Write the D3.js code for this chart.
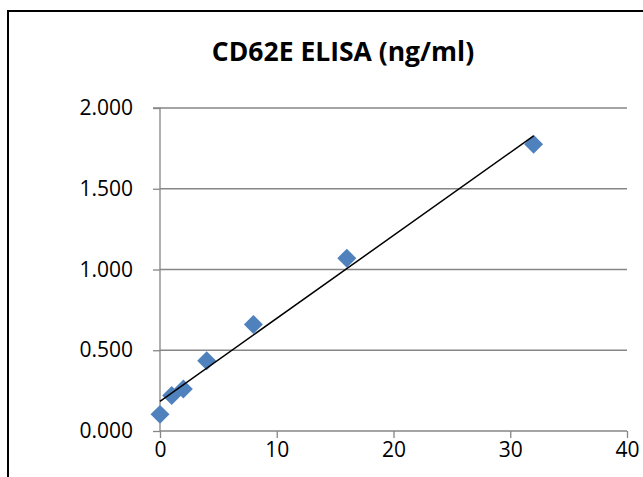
<!DOCTYPE html>
<html>
<head>
<meta charset="utf-8">
<script src="https://cdn.jsdelivr.net/npm/d3@7"></script>
<style>
html,body{margin:0;padding:0;background:#fff;}
svg{display:block;}
text{font-family:"Open Sans",sans-serif;}
</style>
</head>
<body>
<svg id="chart" width="643" height="477"></svg>
<script>
const title = "CD62E ELISA (ng/ml)";
const concentrations = [0, 1, 2, 4, 8, 16, 32];
const absorbance = [0.103, 0.220, 0.260, 0.435, 0.660, 1.070, 1.775];
const xTicks = [0, 10, 20, 30, 40];
const yTicks = [0, 0.5, 1.0, 1.5, 2.0];

const svg = d3.select("#chart");

// chart border
svg.append("rect").attr("x", 8).attr("y", 11).attr("width", 700).attr("height", 600)
  .attr("fill", "#fff").attr("stroke", "#000").attr("stroke-width", 2);

const x = d3.scaleLinear().domain([0, 40]).range([160, 627]);
const y = d3.scaleLinear().domain([0, 2]).range([431, 108]);

// gridlines
svg.append("g").selectAll("line").data(yTicks.filter(d => d > 0)).join("line")
  .attr("x1", x(0)).attr("x2", x(40))
  .attr("y1", d => y(d)).attr("y2", d => y(d))
  .attr("stroke", "#868686").attr("stroke-width", 1.3);

// y axis
const yAxis = d3.axisLeft(y).tickValues(yTicks).tickFormat(d3.format(".3f")).tickSize(7).tickPadding(20);
const gy = svg.append("g").attr("transform", `translate(${x(0)},0)`).call(yAxis);
gy.select(".domain").attr("stroke", "#868686").attr("stroke-width", 1.3).attr("d", `M-7,${y(2)}H0V${y(0)}`);
gy.selectAll(".tick line").attr("stroke", "#868686").attr("stroke-width", 1.3);
gy.selectAll(".tick text").attr("font-size", 21).attr("fill", "#000").attr("font-family", "Open Sans");

// x axis
const xAxis = d3.axisBottom(x).tickValues(xTicks).tickSize(7).tickPadding(4);
const gx = svg.append("g").attr("transform", `translate(0,${y(0)})`).call(xAxis);
gx.select(".domain").attr("stroke", "#868686").attr("stroke-width", 1.3).attr("d", `M${x(0)},0H${x(40)}`);
gx.selectAll(".tick line").attr("stroke", "#868686").attr("stroke-width", 1.3);
gx.selectAll(".tick text").attr("font-size", 21).attr("fill", "#000").attr("font-family", "Open Sans");

// linear trendline (least squares)
const n = concentrations.length;
const mx = d3.mean(concentrations), my = d3.mean(absorbance);
let sxy = 0, sxx = 0;
for (let i = 0; i < n; i++) { sxy += (concentrations[i]-mx)*(absorbance[i]-my); sxx += (concentrations[i]-mx)**2; }
const slope = sxy / sxx, intercept = my - slope * mx;
const xMin = d3.min(concentrations), xMax = d3.max(concentrations);

// markers
const diamond = d3.symbol().type(d3.symbolSquare).size(180);
svg.append("g").selectAll("path").data(concentrations).join("path")
  .attr("d", diamond)
  .attr("transform", (d, i) => `translate(${x(d)},${y(absorbance[i])}) rotate(45)`)
  .attr("fill", "#4F81BD");

svg.append("line")
  .attr("x1", x(xMin)).attr("y1", y(intercept + slope * xMin))
  .attr("x2", x(xMax)).attr("y2", y(intercept + slope * xMax))
  .attr("stroke", "#000").attr("stroke-width", 1.5);

// title
svg.append("text").attr("x", 343).attr("y", 61).attr("text-anchor", "middle")
  .attr("font-size", 26.5).attr("font-weight", "bold").attr("fill", "#000").text(title);
</script>
</body>
</html>
